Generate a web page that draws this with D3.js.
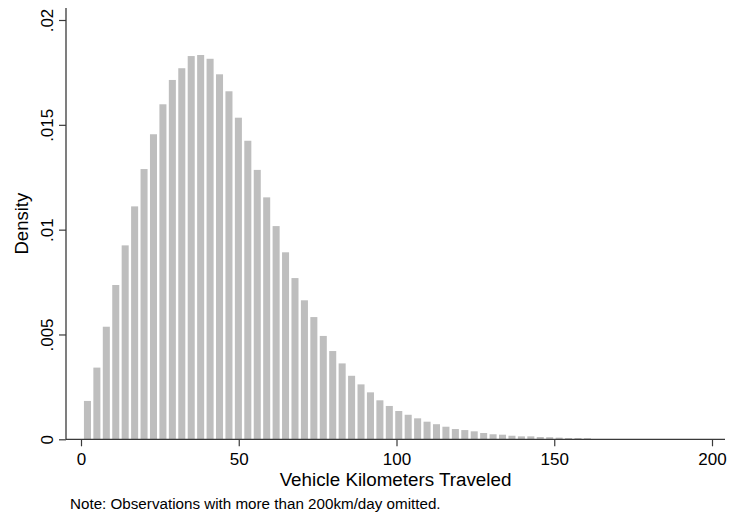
<!DOCTYPE html>
<html>
<head>
<meta charset="utf-8">
<script src="https://cdn.jsdelivr.net/npm/d3@7"></script>
<style>
  html, body { margin: 0; padding: 0; background: #fff; }
  svg { display: block; font-family: "Liberation Sans", Arial, sans-serif; }
</style>
</head>
<body>
<svg id="chart" width="732" height="518"></svg>
<script>
// ---- data ----
const binStart = 0.55;
const binWidth = 2.99;
const density = [
  0.00183, 0.00342, 0.00537, 0.00736, 0.00925, 0.01111, 0.01289, 0.01455,
  0.01598, 0.01714, 0.01770, 0.01828, 0.01833, 0.01815, 0.01741, 0.01660,
  0.01534, 0.01424, 0.01285, 0.01154, 0.01017, 0.00892, 0.00769, 0.00663,
  0.00583, 0.00493, 0.00421, 0.00362, 0.00303, 0.00262, 0.00224, 0.00186,
  0.00159, 0.00135, 0.00117, 0.00100, 0.00084, 0.00072, 0.00060, 0.00049,
  0.00044, 0.00038, 0.00030, 0.00024, 0.00022, 0.00017, 0.00014, 0.00014,
  0.00011, 0.00010, 0.00008, 0.00006, 0.00006, 0.00005
];
const xTicks = [0, 50, 100, 150, 200];
const yTicks = [0, 0.005, 0.01, 0.015, 0.02];
const yTickLabels = ["0", ".005", ".01", ".015", ".02"];
const xTitle = "Vehicle Kilometers Traveled";
const yTitle = "Density";
const note = "Note: Observations with more than 200km/day omitted.";

// ---- layout ----
const svg = d3.select("#chart");
const x = d3.scaleLinear().domain([0, 200]).range([81, 712]);
const y = d3.scaleLinear().domain([0, 0.02]).range([439.3, 20]);
const plotLeft = 66, plotRight = 725, plotTop = 8, plotBottom = 439.3;
const axisColor = "#3a3a3a";

// bars
const gap = 2.4;
svg.append("g").selectAll("rect")
  .data(density)
  .join("rect")
  .attr("x", (d, i) => x(binStart + i * binWidth) + gap / 2)
  .attr("width", x(binWidth) - x(0) - gap)
  .attr("y", d => y(d))
  .attr("height", d => y(0) - y(d))
  .attr("fill", "#bebebe");

// axis lines
svg.append("line")
  .attr("x1", plotLeft).attr("x2", plotLeft)
  .attr("y1", plotTop).attr("y2", plotBottom)
  .attr("stroke", axisColor).attr("stroke-width", 1.3);
svg.append("line")
  .attr("x1", plotLeft).attr("x2", plotRight)
  .attr("y1", plotBottom).attr("y2", plotBottom)
  .attr("stroke", axisColor).attr("stroke-width", 1.3);

// x axis
const gx = svg.append("g")
  .attr("transform", `translate(0,${plotBottom})`)
  .call(d3.axisBottom(x).tickValues(xTicks).tickSize(7).tickSizeOuter(0).tickFormat(d3.format("d")));
gx.select(".domain").remove();
gx.selectAll(".tick line").attr("stroke", axisColor).attr("stroke-width", 1.2);
gx.selectAll(".tick text")
  .attr("y", 26).attr("dy", null)
  .attr("font-size", 17).attr("fill", "#000")
  .style("font-family", "Liberation Sans, Arial, sans-serif");

// y axis
const gy = svg.append("g")
  .attr("transform", `translate(${plotLeft},0)`)
  .call(d3.axisLeft(y).tickValues(yTicks).tickSize(7).tickSizeOuter(0)
    .tickFormat((d, i) => yTickLabels[i]));
gy.select(".domain").remove();
gy.selectAll(".tick line").attr("stroke", axisColor).attr("stroke-width", 1.2);
gy.selectAll(".tick text")
  .attr("x", 0).attr("y", -13).attr("dy", null)
  .attr("transform", "rotate(-90)")
  .attr("text-anchor", "middle")
  .attr("font-size", 17).attr("fill", "#000")
  .style("font-family", "Liberation Sans, Arial, sans-serif");

// titles
svg.append("text")
  .attr("x", (plotLeft + plotRight) / 2).attr("y", 486)
  .attr("text-anchor", "middle").attr("font-size", 18.8).attr("fill", "#000")
  .text(xTitle);
svg.append("text")
  .attr("transform", `translate(28,${(plotTop + plotBottom) / 2}) rotate(-90)`)
  .attr("text-anchor", "middle").attr("font-size", 18.5).attr("fill", "#000")
  .text(yTitle);
svg.append("text")
  .attr("x", 70).attr("y", 509)
  .attr("font-size", 15.2).attr("fill", "#000")
  .text(note);
</script>
</body>
</html>
